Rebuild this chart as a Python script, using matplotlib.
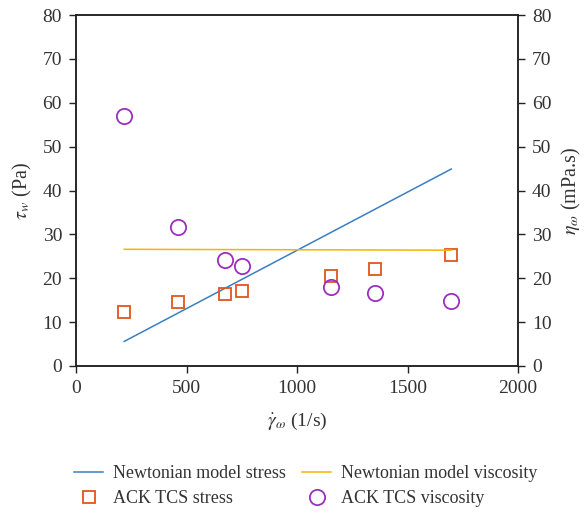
import matplotlib.pyplot as plt
from matplotlib.lines import Line2D

plt.rcParams['font.family'] = ['Liberation Serif', 'DejaVu Serif']
plt.rcParams['mathtext.fontset'] = 'stix'

# Newtonian model lines
model_x = [218, 1698]
model_stress = [5.6, 44.9]
model_visc = [26.6, 26.4]

# ACK TCS measurements
shear_rate = [218, 463, 676, 751, 1152, 1351, 1698]
ack_stress = [12.4, 14.5, 16.4, 17.0, 20.5, 22.2, 25.4]
ack_visc = [56.9, 31.6, 24.2, 22.7, 17.9, 16.6, 14.9]

xticks = [0, 500, 1000, 1500, 2000]
yticks = [0, 10, 20, 30, 40, 50, 60, 70, 80]

blue = '#3a7fc1'
yellow = '#f5b400'
orange = '#e0561c'
purple = '#9a2fbf'

fig = plt.figure(figsize=(5.86, 5.16), dpi=100)
ax = fig.add_axes([0.1297, 0.2907, 0.7543, 0.6802])
ax2 = ax.twinx()

ax.plot(model_x, model_stress, color=blue, lw=1.1)
ax.plot(shear_rate, ack_stress, ls='none', marker='s', ms=9, mfc='none',
        mec=orange, mew=1.3)
ax2.plot(model_x, model_visc, color=yellow, lw=1.1)
ax2.plot(shear_rate, ack_visc, ls='none', marker='o', ms=11, mfc='none',
         mec=purple, mew=1.3)

for a in (ax, ax2):
    a.set_ylim(0, 80)
    a.set_yticks(yticks)
    a.tick_params(labelsize=14, length=5, width=1, pad=5, direction='out',
                  colors='#222222', labelcolor='#333333')
    for s in a.spines.values():
        s.set_linewidth(1.1)
        s.set_color('#222222')
ax.set_xlim(0, 2000)
ax.set_xticks(xticks)

ax.set_xlabel(r'$\dot{\gamma}_{\omega}$ (1/s)', fontsize=14, labelpad=10,
              color='#333333')
ax.set_ylabel(r'$\tau_{w}$ (Pa)', fontsize=14.5, labelpad=6, color='#333333')
ax2.set_ylabel(r'$\eta_{\omega}$ (mPa.s)', fontsize=14.5, labelpad=6,
               color='#333333')

handles = [
    Line2D([], [], color=blue, lw=1.1),
    Line2D([], [], ls='none', marker='s', ms=9, mfc='none', mec=orange, mew=1.3),
    Line2D([], [], color=yellow, lw=1.1),
    Line2D([], [], ls='none', marker='o', ms=11, mfc='none', mec=purple, mew=1.3),
]
labels = ['Newtonian model stress', 'ACK TCS stress',
          'Newtonian model viscosity', 'ACK TCS viscosity']
leg = fig.legend(handles, labels, ncol=2, loc='center', bbox_to_anchor=(0.522, 0.058),
                 frameon=False, fontsize=13, handlelength=1.6, handletextpad=0.55,
                 columnspacing=0.9, labelspacing=0.45)
for t in leg.get_texts():
    t.set_color('#333333')

fig.savefig('out.png', dpi=100)
